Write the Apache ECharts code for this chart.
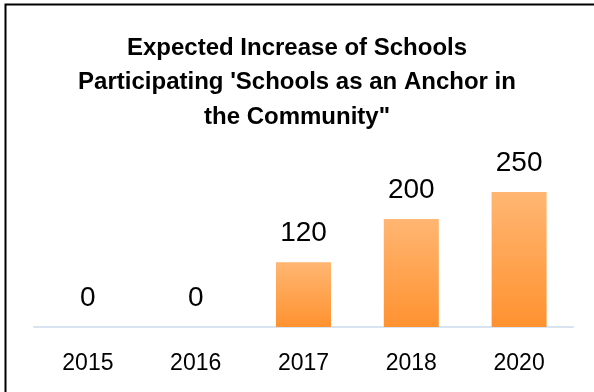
<!DOCTYPE html>
<html>
<head>
<meta charset="utf-8">
<script src="https://cdn.jsdelivr.net/npm/echarts@6/dist/echarts.min.js"></script>
<style>
html,body{margin:0;padding:0;background:#fff;}
#chart{width:594px;height:392px;}
</style>
</head>
<body>
<div id="chart"></div>
<script>
const categories = ['2015', '2016', '2017', '2018', '2020'];
const values = [0, 0, 120, 200, 250];
const titleText = "Expected Increase of Schools\nParticipating 'Schools as an Anchor in\nthe Community\"";

const chart = echarts.init(document.getElementById('chart'), null, {renderer: 'canvas'});
const FONT = "'Liberation Sans', Arial, sans-serif";
chart.setOption({
  animation: false,
  backgroundColor: '#ffffff',
  graphic: [{
    type: 'rect',
    shape: {x: 5.5, y: 4.5, width: 700, height: 500},
    style: {fill: 'none', stroke: '#000000', lineWidth: 2},
    silent: true
  }],
  title: {
    text: titleText,
    left: 'center',
    top: 26,
    textStyle: {fontFamily: FONT, fontWeight: 'bold', fontSize: 24, lineHeight: 34.5, color: '#000000'}
  },
  grid: {left: 34, right: 21, top: 165, bottom: 65, containLabel: false},
  xAxis: {
    type: 'category',
    data: categories,
    axisLine: {lineStyle: {color: '#d9e4f2', width: 2}},
    axisTick: {show: false},
    axisLabel: {fontFamily: FONT, fontSize: 23, color: '#000000', margin: 25}
  },
  yAxis: {
    type: 'value',
    min: 0,
    max: 300,
    show: false,
    splitLine: {show: false}
  },
  series: [{
    type: 'bar',
    data: values,
    barWidth: 55,
    itemStyle: {
      color: new echarts.graphic.LinearGradient(0, 0, 0, 1, [
        {offset: 0, color: '#ffb672'},
        {offset: 1, color: '#ff9230'}
      ])
    },
    label: {
      show: true,
      position: 'top',
      distance: 15,
      fontFamily: FONT,
      fontSize: 28,
      color: '#000000'
    }
  }]
});
</script>
</body>
</html>
